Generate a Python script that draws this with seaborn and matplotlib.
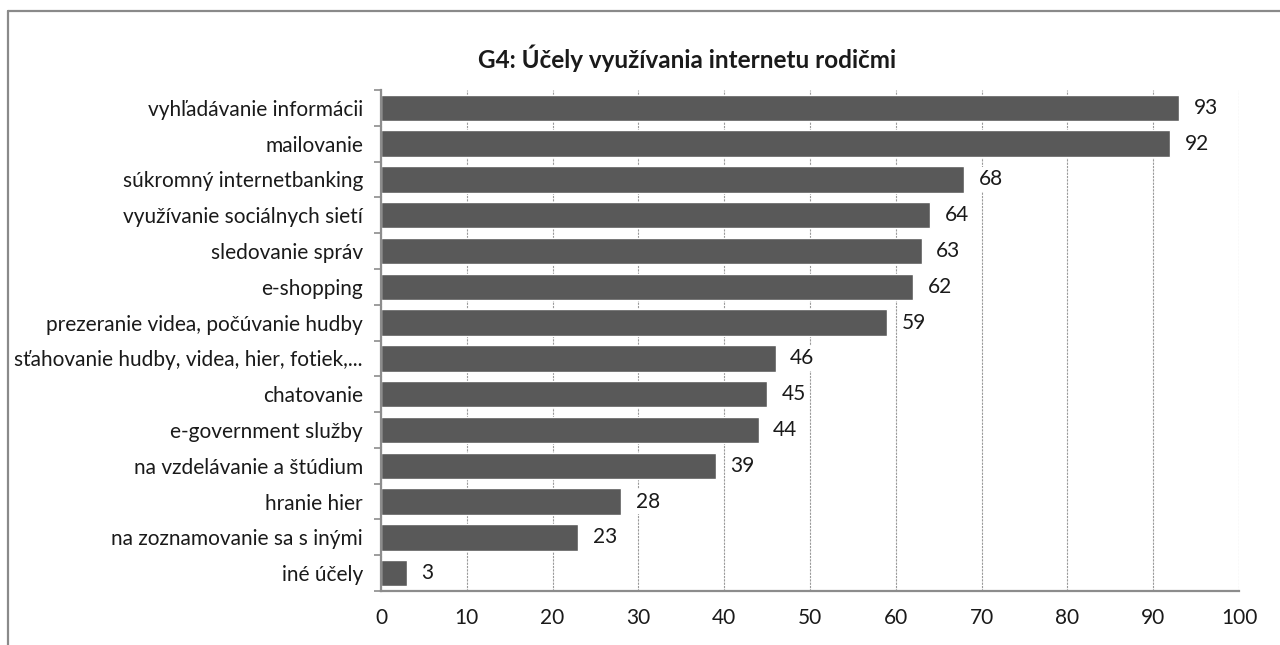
import numpy as np
import pandas as pd
import matplotlib
matplotlib.use("Agg")
import matplotlib.pyplot as plt
from matplotlib.lines import Line2D
import seaborn as sns

categories = [
    "vyhľadávanie informácii",
    "mailovanie",
    "súkromný internetbanking",
    "využívanie sociálnych sietí",
    "sledovanie správ",
    "e-shopping",
    "prezeranie videa, počúvanie hudby",
    "sťahovanie hudby, videa, hier, fotiek,...",
    "chatovanie",
    "e-government služby",
    "na vzdelávanie a štúdium",
    "hranie hier",
    "na zoznamovanie sa s inými",
    "iné účely",
]
values = [93, 92, 68, 64, 63, 62, 59, 46, 45, 44, 39, 28, 23, 3]
x_ticks = list(range(0, 101, 10))
title = "G4: Účely využívania internetu rodičmi"

df = pd.DataFrame({"purpose": categories, "percent": values})

sns.set_style("white")
plt.rcParams["font.family"] = ["Lato", "DejaVu Sans"]

fig = plt.figure(figsize=(12.8, 6.45), dpi=100)
ax = fig.add_axes([381 / 1280, 1 - 591 / 645, (1239 - 381) / 1280, (591 - 90) / 645])

sns.barplot(data=df, x="percent", y="purpose", color="#595959", saturation=1,
            width=0.74, orient="h", ax=ax, zorder=2)

ax.set_xlim(0, 100)
ax.set_ylim(len(categories) - 0.5, -0.5)
ax.set_xticks(x_ticks)
ax.set_xlabel("")
ax.set_ylabel("")

ax.grid(axis="x", color="#9a9a9a", linestyle=(0, (2, 1)), linewidth=0.8, zorder=0)
ax.grid(axis="y", visible=False)

for side in ["top", "right"]:
    ax.spines[side].set_visible(False)
for side in ["left", "bottom"]:
    ax.spines[side].set_color("#8c8c8c")
    ax.spines[side].set_linewidth(1.6)
    ax.spines[side].set_zorder(3)

ax.set_yticks(np.arange(-0.5, len(categories)), minor=True)
ax.tick_params(axis="y", which="minor", length=5, width=1.2, color="#8c8c8c", left=True)
ax.tick_params(axis="y", which="major", length=0, pad=13, labelsize=15, labelcolor="#1a1a1a")
ax.tick_params(axis="x", which="major", length=0, pad=12, labelsize=15, labelcolor="#1a1a1a")

for i, v in enumerate(values):
    ax.text(v + 1.7, i, str(v), va="center", ha="left", fontsize=15, color="#1a1a1a",
            zorder=4, bbox=dict(facecolor="white", edgecolor="none", pad=2))

fig.text(687 / 1280, 1 - 58 / 645, title, ha="center", va="center",
         fontsize=17.5, fontweight="bold", color="#1a1a1a")

# chart frame (top and left edges visible)
fig.add_artist(Line2D([8 / 1280, 1.0], [1 - 11 / 645, 1 - 11 / 645], transform=fig.transFigure,
                      color="#8a8a8a", linewidth=1.6))
fig.add_artist(Line2D([8 / 1280, 8 / 1280], [1 - 11 / 645, 0.0], transform=fig.transFigure,
                      color="#8a8a8a", linewidth=1.6))

fig.savefig("out.png", dpi=100)
